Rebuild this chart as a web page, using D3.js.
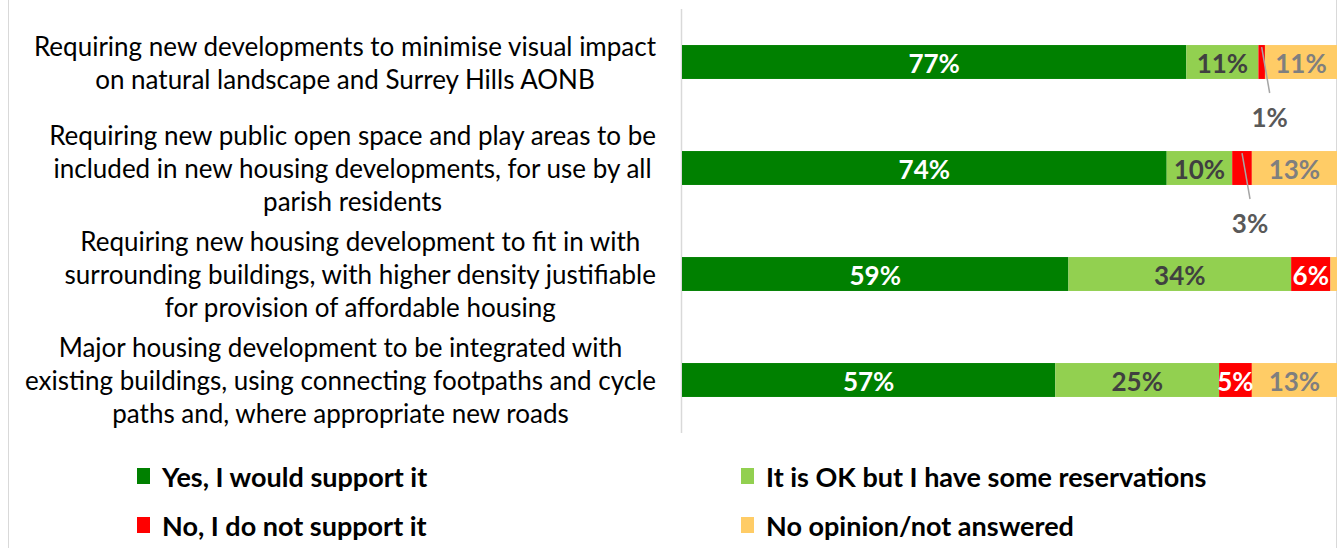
<!DOCTYPE html>
<html>
<head>
<meta charset="utf-8">
<script src="https://cdn.jsdelivr.net/npm/d3@7"></script>
<style>
  html, body { margin: 0; padding: 0; background: #ffffff; }
  svg { display: block; font-family: Lato, "Open Sans", sans-serif; }
</style>
</head>
<body>
<svg id="chart" width="1340" height="548"></svg>
<script>
// Survey statements (one per bar), each split into its display lines
const categories = [
  ["Requiring new developments to minimise visual impact", "on natural landscape and Surrey Hills AONB"],
  ["Requiring new public open space and play areas to be", "included in new housing developments, for use by all", "parish residents"],
  ["Requiring new housing development to fit in with", "surrounding buildings, with higher density justifiable", "for provision of affordable housing"],
  ["Major housing development to be integrated with", "existing buildings, using connecting footpaths and cycle", "paths and, where appropriate new roads"]
];

const seriesNames = [
  "Yes, I would support it",
  "It is OK but I have some reservations",
  "No, I do not support it",
  "No opinion/not answered"
];

// Percentages per statement
const yesSupport   = [77, 74, 59, 57];
const reservations = [11, 10, 34, 25];
const notSupport   = [1, 3, 6, 5];
const noOpinion    = [11, 13, 1, 13];

const seriesValues = [yesSupport, reservations, notSupport, noOpinion];
const seriesColors = ["#008000", "#92d050", "#ff0000", "#ffcc66"];
const labelColors  = ["#ffffff", "#404040", "#ffffff", "#7f7f7f"];

const svg = d3.select("#chart");

// Outer chart frame
svg.append("rect")
  .attr("x", 8.5).attr("y", -2)
  .attr("width", 1328).attr("height", 560)
  .attr("fill", "none").attr("stroke", "#d9d9d9").attr("stroke-width", 1);

const keys = categories.map((c, i) => "c" + i);

const x = d3.scaleLinear().domain([0, 100]).range([682, 1337]);
const y = d3.scaleBand().domain(keys).range([9, 433])
  .paddingInner(0.68).paddingOuter(0.34);

// Rows for the stack
const rows = keys.map((k, i) => {
  const r = { key: k };
  seriesNames.forEach((s, j) => { r[s] = seriesValues[j][i]; });
  return r;
});
const stacked = d3.stack().keys(seriesNames)(rows);

// Category axis line
svg.append("line")
  .attr("x1", 681.5).attr("x2", 681.5)
  .attr("y1", 9).attr("y2", 433)
  .attr("stroke", "#d9d9d9").attr("stroke-width", 1.5);

// Bars
const layers = svg.append("g").selectAll("g")
  .data(stacked)
  .join("g")
  .attr("fill", (d, i) => seriesColors[i]);

layers.selectAll("rect")
  .data(d => d)
  .join("rect")
  .attr("x", d => x(d[0]))
  .attr("y", d => y(d.data.key))
  .attr("width", d => x(d[1]) - x(d[0]))
  .attr("height", y.bandwidth());

// Value labels
const labelG = svg.append("g")
  .attr("font-weight", "bold")
  .attr("font-size", 26);

stacked.forEach((layer, si) => {
  layer.forEach((d, ci) => {
    const v = d[1] - d[0];
    if (v < 1.5 && si === 3) return;          // sliver too narrow for a label
    const cx = (x(d[0]) + x(d[1])) / 2;
    const cy = y(d.data.key) + y.bandwidth() / 2;
    if (si === 2 && v <= 3) {
      // small segment: call-out label beneath the bar with a leader line
      const lx = cx + 8;
      const ly = cy + 55;
      svg.append("line")
        .attr("x1", cx).attr("y1", y(d.data.key) + 2)
        .attr("x2", lx).attr("y2", cy + 31)
        .attr("stroke", "#a6a6a6").attr("stroke-width", 1.5);
      labelG.append("text")
        .attr("x", lx).attr("y", ly)
        .attr("text-anchor", "middle")
        .attr("dominant-baseline", "central")
        .attr("fill", "#595959")
        .text(v + "%");
      return;
    }
    labelG.append("text")
      .attr("x", cx).attr("y", cy + 1)
      .attr("text-anchor", "middle")
      .attr("dominant-baseline", "central")
      .attr("fill", labelColors[si])
      .text(v + "%");
  });
});

// Category labels: each block centred, right edge of the widest line aligned
const lineH = 33;
const catG = svg.append("g").attr("font-size", 26).attr("fill", "#000000");
categories.forEach((lines, i) => {
  const cy = y(keys[i]) + y.bandwidth() / 2;
  const t = catG.append("text").attr("text-anchor", "middle");
  const spans = lines.map((ln, j) =>
    t.append("tspan")
      .attr("y", cy + (j - (lines.length - 1) / 2) * lineH)
      .attr("dominant-baseline", "central")
      .text(ln));
  const maxW = d3.max(spans, s => s.node().getComputedTextLength());
  const cx = 656 - maxW / 2;
  spans.forEach(s => s.attr("x", cx));
});

// Legend
const legendPos = [[137, 476], [741, 476], [137, 525], [741, 525]];
const legend = svg.append("g").attr("font-size", 27).attr("font-weight", "bold");
seriesNames.forEach((name, i) => {
  const [lx, ly] = legendPos[i];
  legend.append("rect")
    .attr("x", lx).attr("y", ly - 8)
    .attr("width", 13).attr("height", 16)
    .attr("fill", seriesColors[i]);
  legend.append("text")
    .attr("x", lx + 25).attr("y", ly)
    .attr("dominant-baseline", "central")
    .attr("fill", "#000000")
    .text(name);
});
</script>
</body>
</html>
